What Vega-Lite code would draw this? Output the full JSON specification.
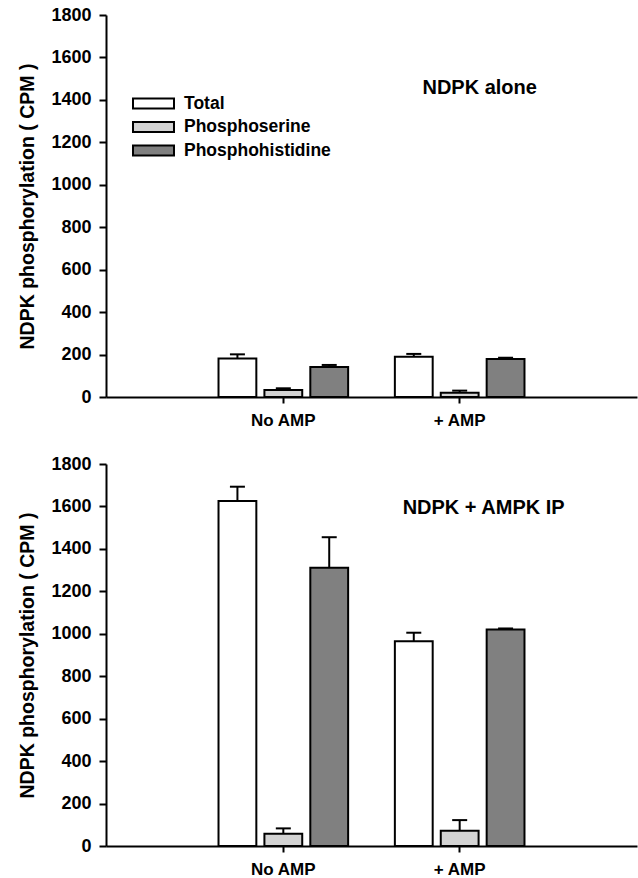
{
  "$schema": "https://vega.github.io/schema/vega-lite/v6.json",
  "padding": {"left": 17, "top": 6, "right": 1, "bottom": 0},
  "background": "white",
  "datasets": {
    "top": [
      {"cond": "No AMP", "type": "Total", "value": 182, "upper": 201},
      {"cond": "No AMP", "type": "Phosphoserine", "value": 33, "upper": 41},
      {"cond": "No AMP", "type": "Phosphohistidine", "value": 141, "upper": 151},
      {"cond": "+ AMP", "type": "Total", "value": 190, "upper": 203},
      {"cond": "+ AMP", "type": "Phosphoserine", "value": 20, "upper": 30},
      {"cond": "+ AMP", "type": "Phosphohistidine", "value": 179, "upper": 185}
    ],
    "bottom": [
      {"cond": "No AMP", "type": "Total", "value": 1626, "upper": 1693},
      {"cond": "No AMP", "type": "Phosphoserine", "value": 58, "upper": 83},
      {"cond": "No AMP", "type": "Phosphohistidine", "value": 1311, "upper": 1455},
      {"cond": "+ AMP", "type": "Total", "value": 965, "upper": 1005},
      {"cond": "+ AMP", "type": "Phosphoserine", "value": 72, "upper": 122},
      {"cond": "+ AMP", "type": "Phosphohistidine", "value": 1020, "upper": 1025}
    ],
    "labelTop": [{"label": "NDPK alone"}],
    "labelBottom": [{"label": "NDPK + AMPK IP"}]
  },
  "config": {
    "view": {"stroke": null},
    "font": "Liberation Sans",
    "axis": {
      "domainColor": "black", "domainWidth": 2,
      "tickColor": "black", "tickWidth": 2,
      "labelFont": "Liberation Sans", "labelFontWeight": "bold", "labelFontSize": 17, "labelColor": "black",
      "titleFont": "Liberation Sans", "titleFontWeight": "bold", "titleFontSize": 19.5, "titleColor": "black",
      "grid": false
    },
    "legend": {
      "labelFont": "Liberation Sans", "labelFontWeight": "bold", "labelFontSize": 17.5, "labelColor": "black"
    }
  },
  "vconcat": [
    {
      "width": 531, "height": 382,
      "encoding": {
        "x": {"field": "cond", "type": "nominal",
          "scale": {"domain": ["No AMP", "+ AMP"], "paddingInner": 0.265, "paddingOuter": 0.638},
          "axis": {"title": null, "labelAngle": 0, "tickSize": 6, "labelPadding": 9}}
      },
      "layer": [
        {
          "data": {"name": "top"},
          "mark": {"type": "rule", "color": "black", "strokeWidth": 2},
          "encoding": {
            "xOffset": {"field": "type", "type": "nominal",
              "scale": {"domain": ["Total", "Phosphoserine", "Phosphohistidine"], "paddingInner": 0.176, "paddingOuter": 0}},
            "y": {"field": "value", "type": "quantitative"},
            "y2": {"field": "upper"}
          }
        },
        {
          "data": {"name": "top"},
          "mark": {"type": "tick", "color": "black", "thickness": 2, "size": 15, "opacity": 1},
          "encoding": {
            "xOffset": {"field": "type", "type": "nominal"},
            "y": {"field": "upper", "type": "quantitative"}
          }
        },
        {
          "data": {"name": "top"},
          "mark": {"type": "bar", "stroke": "black", "strokeWidth": 2, "opacity": 1},
          "encoding": {
            "xOffset": {"field": "type", "type": "nominal"},
            "y": {"field": "value", "type": "quantitative",
              "scale": {"domain": [0, 1800], "nice": false},
              "axis": {"title": "NDPK phosphorylation ( CPM )", "format": "d", "values": [0, 200, 400, 600, 800, 1000, 1200, 1400, 1600, 1800], "tickSize": 7, "labelPadding": 8, "labelFontSize": 18, "titlePadding": 13}},
            "fill": {"field": "type", "type": "nominal",
              "scale": {"domain": ["Total", "Phosphoserine", "Phosphohistidine"], "range": ["#ffffff", "#d3d3d3", "#808080"]},
              "legend": {"title": null, "orient": "none", "legendX": 36, "legendY": 77, "padding": 0,
                "symbolType": "M-2,-0.5H2V0.5H-2Z", "symbolSize": 420, "symbolStrokeColor": "black", "symbolStrokeWidth": 2,
                "symbolOpacity": 1, "labelOffset": 19, "rowPadding": 2.5}}
          }
        },
        {
          "data": {"name": "labelTop"},
          "mark": {"type": "text", "font": "Liberation Sans", "fontWeight": "bold", "fontSize": 20, "color": "black", "dx": 20},
          "encoding": {
            "x": {"datum": "+ AMP", "type": "nominal"},
            "y": {"datum": 1456, "type": "quantitative"},
            "text": {"field": "label"}
          }
        }
      ]
    },
    {
      "width": 531, "height": 382,
      "encoding": {
        "x": {"field": "cond", "type": "nominal",
          "scale": {"domain": ["No AMP", "+ AMP"], "paddingInner": 0.265, "paddingOuter": 0.638},
          "axis": {"title": null, "labelAngle": 0, "tickSize": 6, "labelPadding": 9}}
      },
      "layer": [
        {
          "data": {"name": "bottom"},
          "mark": {"type": "rule", "color": "black", "strokeWidth": 2},
          "encoding": {
            "xOffset": {"field": "type", "type": "nominal",
              "scale": {"domain": ["Total", "Phosphoserine", "Phosphohistidine"], "paddingInner": 0.176, "paddingOuter": 0}},
            "y": {"field": "value", "type": "quantitative"},
            "y2": {"field": "upper"}
          }
        },
        {
          "data": {"name": "bottom"},
          "mark": {"type": "tick", "color": "black", "thickness": 2, "size": 15, "opacity": 1},
          "encoding": {
            "xOffset": {"field": "type", "type": "nominal"},
            "y": {"field": "upper", "type": "quantitative"}
          }
        },
        {
          "data": {"name": "bottom"},
          "mark": {"type": "bar", "stroke": "black", "strokeWidth": 2, "opacity": 1},
          "encoding": {
            "xOffset": {"field": "type", "type": "nominal"},
            "y": {"field": "value", "type": "quantitative",
              "scale": {"domain": [0, 1800], "nice": false},
              "axis": {"title": "NDPK phosphorylation ( CPM )", "format": "d", "values": [0, 200, 400, 600, 800, 1000, 1200, 1400, 1600, 1800], "tickSize": 7, "labelPadding": 8, "labelFontSize": 18, "titlePadding": 13}},
            "fill": {"field": "type", "type": "nominal",
              "scale": {"domain": ["Total", "Phosphoserine", "Phosphohistidine"], "range": ["#ffffff", "#d3d3d3", "#808080"]},
              "legend": null}
          }
        },
        {
          "data": {"name": "labelBottom"},
          "mark": {"type": "text", "font": "Liberation Sans", "fontWeight": "bold", "fontSize": 20, "color": "black", "dx": 24},
          "encoding": {
            "x": {"datum": "+ AMP", "type": "nominal"},
            "y": {"datum": 1593, "type": "quantitative"},
            "text": {"field": "label"}
          }
        }
      ]
    }
  ],
  "spacing": 67,
  "bounds": "flush",
  "resolve": {"scale": {"fill": "independent"}, "legend": {"fill": "independent"}}
}
